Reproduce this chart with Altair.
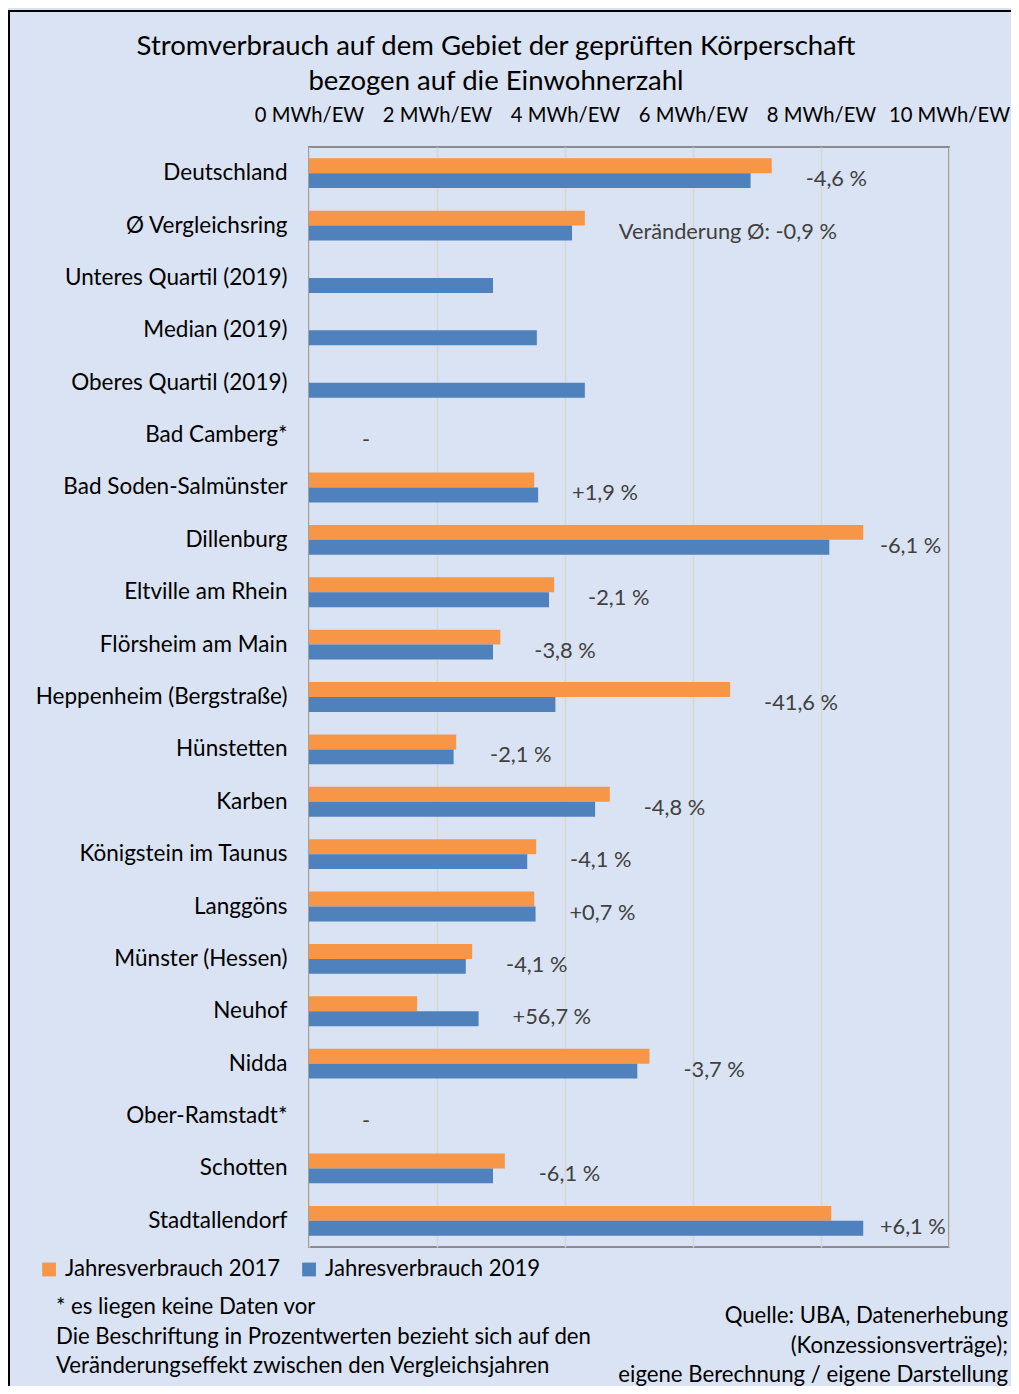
import altair as alt
import pandas as pd

categories = [
    "Deutschland", "Ø Vergleichsring", "Unteres Quartil (2019)", "Median (2019)",
    "Oberes Quartil (2019)", "Bad Camberg*", "Bad Soden-Salmünster", "Dillenburg",
    "Eltville am Rhein", "Flörsheim am Main", "Heppenheim (Bergstraße)", "Hünstetten",
    "Karben", "Königstein im Taunus", "Langgöns", "Münster (Hessen)", "Neuhof",
    "Nidda", "Ober-Ramstadt*", "Schotten", "Stadtallendorf",
]
v2017 = [7.23, 4.31, None, None, None, None, 3.52, 8.66, 3.83, 2.99, 6.58, 2.30,
         4.70, 3.55, 3.52, 2.55, 1.69, 5.32, None, 3.06, 8.16]
v2019 = [6.90, 4.11, 2.875, 3.56, 4.31, None, 3.58, 8.13, 3.75, 2.875, 3.85, 2.26,
         4.47, 3.41, 3.54, 2.45, 2.65, 5.13, None, 2.875, 8.66]
change_labels = ["-4,6 %", "Veränderung Ø: -0,9 %", "", "", "", "-", "+1,9 %", "-6,1 %",
                 "-2,1 %", "-3,8 %", "-41,6 %", "-2,1 %", "-4,8 %", "-4,1 %", "+0,7 %",
                 "-4,1 %", "+56,7 %", "-3,7 %", "-", "-6,1 %", "+6,1 %"]
series_names = ["Jahresverbrauch 2017", "Jahresverbrauch 2019"]
series_colors = ["#f79646", "#4f81bd"]
x_ticks = [0, 2, 4, 6, 8, 10]

title_lines = ["Stromverbrauch auf dem Gebiet der geprüften Körperschaft",
               "bezogen auf die Einwohnerzahl"]
note_left = ["* es liegen keine Daten vor",
             "Die Beschriftung in Prozentwerten bezieht sich auf den",
             "Veränderungseffekt zwischen den Vergleichsjahren"]
note_right = ["Quelle: UBA, Datenerhebung", "(Konzessionsverträge);",
              "eigene Berechnung / eigene Darstellung"]

FONT = "Lato"
BG = "#dae3f3"

rows = []
for c, a, b in zip(categories, v2017, v2019):
    if a is not None:
        rows.append({"cat": c, "series": series_names[0], "value": a})
    if b is not None:
        rows.append({"cat": c, "series": series_names[1], "value": b})
bars_df = pd.DataFrame(rows)

lab_rows = []
for c, a, b, t in zip(categories, v2017, v2019, change_labels):
    vals = [v for v in (a, b) if v is not None]
    lab_rows.append({"cat": c, "label": t, "pos": max(vals) if vals else 0.0,
                     "missing": len(vals) == 0})
lab_df = pd.DataFrame(lab_rows)

one = pd.DataFrame({"k": [0]})

y_enc = alt.Y("cat:N", sort=categories,
              scale=alt.Scale(paddingInner=0.43, paddingOuter=0.215),
              axis=alt.Axis(title=None, labelFontSize=22.5, labelFont=FONT,
                            labelColor="black", labelPadding=22, ticks=False,
                            domain=False, labelLimit=400))
x_enc = alt.X("value:Q", scale=alt.Scale(domain=[0, 10], nice=False),
              axis=alt.Axis(orient="top", values=x_ticks, title=None,
                            labelExpr="datum.value + ' MWh/EW'",
                            labelFontSize=20.2, labelFont=FONT, labelColor="black",
                            ticks=False, tickSize=0, domain=False, labelPadding=22,
                            grid=True, gridColor="#d6d6d6", gridWidth=1.5,
                            labelOverlap=False, labelFlush=False))

frame = alt.Chart(one).mark_rect(fillOpacity=0, stroke="black", strokeWidth=2).encode(
    x=alt.value(-300), x2=alt.value(740), y=alt.value(-136), y2=alt.value(1300))

title = alt.Chart(one).mark_text(
    text=title_lines, align="center", baseline="middle", lineHeight=35,
    fontSize=27.5, font=FONT, color="black").encode(
    x=alt.value(187), y=alt.value(-100))

bars = alt.Chart(bars_df).mark_bar().encode(
    x=x_enc,
    y=y_enc,
    yOffset=alt.YOffset("series:N", sort=series_names,
                        scale=alt.Scale(paddingInner=0, paddingOuter=0)),
    color=alt.Color("series:N", sort=series_names,
                    scale=alt.Scale(domain=series_names, range=series_colors),
                    legend=alt.Legend(title=None, orient="none", legendX=-271,
                                      legendY=1111, direction="horizontal",
                                      symbolType="square", symbolSize=190,
                                      symbolStrokeWidth=0, labelFontSize=22.1,
                                      labelFont=FONT, labelColor="black",
                                      labelLimit=400, columnPadding=17,
                                      labelOffset=5)),
)

labels = alt.Chart(lab_df).transform_filter("!datum.missing").transform_calculate(
    lx="min(datum.pos + 0.53, 8.92)"
).mark_text(
    align="left", baseline="middle", dy=6, fontSize=21.8, font=FONT,
    color="#404040").encode(
    x=alt.X("lx:Q"), y=alt.Y("cat:N", sort=categories), text="label:N")

dashes = alt.Chart(lab_df).transform_filter("datum.missing").mark_text(
    align="left", baseline="middle", dx=53, dy=5, fontSize=21.8, font=FONT,
    color="#404040").encode(
    x=alt.X("pos:Q"), y=alt.Y("cat:N", sort=categories), text="label:N")

left_notes = alt.Chart(one).mark_text(
    text=note_left, align="left", baseline="middle", lineHeight=29.5,
    fontSize=22.2, font=FONT, color="black").encode(
    x=alt.value(-253), y=alt.value(1160))

right_notes = alt.Chart(one).mark_text(
    text=note_right, align="right", baseline="middle", lineHeight=29.5,
    fontSize=22.2, font=FONT, color="black").encode(
    x=alt.value(699), y=alt.value(1169))

chart = alt.layer(frame, title, bars, labels, dashes, left_notes, right_notes).properties(
    width=640, height=1100,
    autosize=alt.AutoSizeParams(type="none"),
    padding={"left": 301, "top": 139, "right": 62, "bottom": 139},
    background=BG,
).configure_view(stroke="#8c8c8c", strokeWidth=2)

chart.save("out.html", embed_options={"renderer": "svg", "actions": False})
